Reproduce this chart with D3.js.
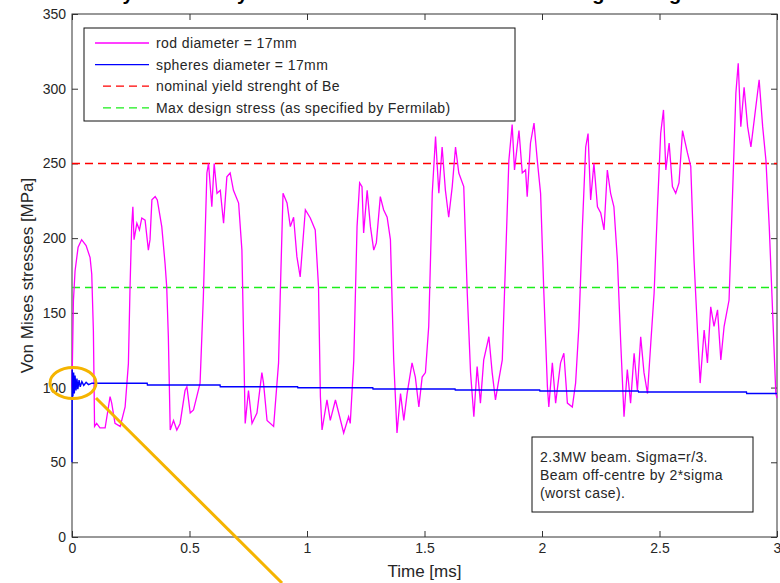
<!DOCTYPE html>
<html>
<head>
<meta charset="utf-8">
<script src="https://cdn.jsdelivr.net/npm/d3@7"></script>
<style>
  body { margin: 0; background: #fff; }
  text { font-family: "Liberation Sans", Arial, sans-serif; fill: #262626; }
</style>
</head>
<body>
<script>
// rod diameter = 17mm (time in ms, stress in MPa)
const rodT = [0, 0.006, 0.013, 0.026, 0.041, 0.060, 0.077, 0.084, 0.091, 0.094, 0.096, 0.105, 0.119, 0.141, 0.155, 0.162, 0.169, 0.183, 0.205, 0.226,
  0.240, 0.247, 0.254, 0.259, 0.264, 0.276, 0.287, 0.297, 0.311, 0.325, 0.332, 0.340, 0.354, 0.363, 0.382, 0.396, 0.403, 0.410, 0.418, 0.432,
  0.446, 0.460, 0.481, 0.489, 0.503, 0.517, 0.531, 0.545, 0.559, 0.574, 0.581, 0.595, 0.605, 0.617, 0.631, 0.645, 0.659, 0.673, 0.687, 0.709,
  0.723, 0.730, 0.737, 0.751, 0.766, 0.787, 0.808, 0.815, 0.830, 0.858, 0.879, 0.886, 0.898, 0.915, 0.929, 0.943, 0.957, 0.971, 0.993, 1.014,
  1.035, 1.049, 1.057, 1.064, 1.085, 1.099, 1.121, 1.135, 1.156, 1.177, 1.184, 1.199, 1.213, 1.224, 1.234, 1.241, 1.256, 1.270, 1.284, 1.295,
  1.312, 1.326, 1.341, 1.355, 1.369, 1.383, 1.398, 1.412, 1.426, 1.447, 1.461, 1.476, 1.490, 1.504, 1.518, 1.533, 1.547, 1.561, 1.575, 1.589,
  1.603, 1.618, 1.632, 1.646, 1.667, 1.682, 1.696, 1.710, 1.724, 1.738, 1.752, 1.774, 1.788, 1.802, 1.816, 1.831, 1.845, 1.859, 1.873, 1.883,
  1.902, 1.916, 1.930, 1.937, 1.951, 1.966, 1.980, 1.994, 2.008, 2.023, 2.029, 2.044, 2.058, 2.079, 2.093, 2.108, 2.129, 2.143, 2.157, 2.172,
  2.186, 2.196, 2.207, 2.221, 2.236, 2.250, 2.264, 2.278, 2.292, 2.306, 2.321, 2.335, 2.349, 2.363, 2.377, 2.392, 2.406, 2.420, 2.434, 2.449,
  2.463, 2.477, 2.491, 2.505, 2.517, 2.527, 2.541, 2.555, 2.569, 2.583, 2.598, 2.619, 2.633, 2.647, 2.662, 2.673, 2.690, 2.704, 2.718, 2.732,
  2.747, 2.761, 2.775, 2.796, 2.811, 2.825, 2.835, 2.846, 2.860, 2.875, 2.889, 2.903, 2.924, 2.939, 2.953, 2.967, 2.981, 2.995, 3.0];
const rodS = [100, 158, 178, 194, 199, 195, 187, 176, 138, 100, 74, 76, 73, 73, 87, 94, 89.6, 76, 74, 87,
  116, 167.5, 208, 221, 199, 210, 205.5, 213.5, 212, 192, 199, 225.6, 227.8, 225.6, 207.7, 183, 167.5, 134, 71.6, 78,
  71.6, 76, 98, 100.6, 83, 85, 94, 103, 161, 243.6, 250, 221, 250, 230, 232, 210, 241, 243.6, 232, 223.5,
  192, 134, 76, 98, 76, 83, 110, 103, 78, 74, 116.5, 161, 230, 223.5, 207.7, 214, 187.6, 174, 219, 213.5,
  205.5, 167.5, 94, 71.6, 91.7, 78, 91.7, 83, 69.6, 80.5, 76, 118, 207.7, 237, 234.5, 203.5, 232, 207.7, 192, 196.8,
  227.8, 219, 214, 199, 118.5, 69.6, 96, 78, 96, 116.5, 107, 87, 107, 110, 141, 230, 268, 230, 261, 232,
  214, 234.5, 261, 243.6, 234.5, 163, 110, 80.5, 114, 89.6, 118.5, 134, 110, 91.7, 105, 118.5, 185, 252, 276, 245.6,
  272, 243.6, 245.6, 227.8, 263.7, 277, 252, 230, 163, 100.6, 87, 116.5, 89.6, 116.5, 123, 89.6, 87, 103, 141, 207.7,
  261, 270, 225.6, 250, 221, 216.8, 205.5, 245.6, 230, 221, 185, 130, 80.5, 112, 89.6, 123, 98, 134, 110, 96,
  130, 163, 219, 270, 285.8, 245.6, 263.7, 234.5, 230, 237, 272, 257, 248, 185, 136.5, 103, 138.5, 116.5, 154, 141,
  152, 118.5, 141, 158.6, 230, 297, 317, 274.6, 301, 274.6, 261, 279, 306, 274.6, 252, 207.7, 152, 96, 93];

// spheres diameter = 17mm
const sphT = [0, 0.001, 0.004, 0.007, 0.010, 0.013, 0.017, 0.021, 0.025, 0.030, 0.035, 0.042, 0.050, 0.060, 0.070, 0.085,
  0.32, 0.321, 0.63, 0.631, 0.96, 0.961, 1.28, 1.281, 1.63, 1.631, 1.99, 1.991, 2.41, 2.411, 2.87, 2.871, 3.0];
const sphS = [50, 112, 94, 110, 96, 108, 98, 106, 99, 105, 100.5, 104, 101.5, 103.5, 102, 103,
  102.9, 101.7, 101.7, 100.6, 100.6, 99.9, 99.9, 99, 99, 98.4, 98.4, 97.7, 97.7, 97, 97, 96, 96];

const yieldStress = 250;
const designStress = 167;

const xTicks = [0, 0.5, 1, 1.5, 2, 2.5, 3];
const yTicks = [0, 50, 100, 150, 200, 250, 300, 350];

const legendLabels = ["rod diameter = 17mm", "spheres diameter = 17mm",
  "nominal yield strenght of Be", "Max design stress (as specified by Fermilab)"];
const noteLines = ["2.3MW beam. Sigma=r/3.", "Beam off-centre by 2*sigma", "(worst case)."];

const W = 780, H = 583;
const mLeft = 72, mRight = 777, mTop = 14, mBottom = 537;

const svg = d3.select("body").append("svg")
  .attr("width", W).attr("height", H);
svg.append("rect").attr("width", W).attr("height", H).attr("fill", "#fff");

const x = d3.scaleLinear().domain([0, 3]).range([mLeft, mRight]);
const y = d3.scaleLinear().domain([0, 350]).range([mBottom, mTop]);

// title, only its lower edge shows at the top of the picture
svg.append("text")
  .attr("x", 108).attr("y", 0)
  .style("font-size", "20px").style("font-weight", "bold").style("fill", "#000")
  .text("Dynamic analysis of Von Mises stresses in a Be target along the axis");

// axes, MATLAB style box with inward ticks
function styleAxis(g) {
  g.select(".domain").remove();
  g.selectAll(".tick line").attr("stroke", "#333");
  g.selectAll(".tick text").style("font-size", "14px").style("fill", "#262626");
}
svg.append("g").attr("transform", `translate(0,${mBottom})`)
  .call(d3.axisBottom(x).tickValues(xTicks).tickSize(-6).tickPadding(6).tickFormat(d => String(d)))
  .call(styleAxis);
svg.append("g").attr("transform", `translate(0,${mTop})`)
  .call(d3.axisTop(x).tickValues(xTicks).tickSize(-6).tickFormat(""))
  .call(styleAxis);
svg.append("g").attr("transform", `translate(${mLeft},0)`)
  .call(d3.axisLeft(y).tickValues(yTicks).tickSize(-6).tickPadding(6))
  .call(styleAxis);
svg.append("g").attr("transform", `translate(${mRight},0)`)
  .call(d3.axisRight(y).tickValues(yTicks).tickSize(-6).tickFormat(""))
  .call(styleAxis);

svg.append("rect")
  .attr("x", mLeft).attr("y", mTop)
  .attr("width", mRight - mLeft).attr("height", mBottom - mTop)
  .attr("fill", "none").attr("stroke", "#333").attr("stroke-width", 1);

// axis labels
svg.append("text")
  .attr("x", (mLeft + mRight) / 2).attr("y", 577)
  .attr("text-anchor", "middle").style("font-size", "17px")
  .text("Time [ms]");
svg.append("text")
  .attr("transform", `translate(33,${(mTop + mBottom) / 2}) rotate(-90)`)
  .attr("text-anchor", "middle").style("font-size", "17px")
  .text("Von Mises stresses [MPa]");

// series
const line = d3.line().x(d => x(d[0])).y(d => y(d[1]));
const rod = rodT.map((t, i) => [t, rodS[i]]);
const sph = sphT.map((t, i) => [t, sphS[i]]);

svg.append("path").datum([[0, yieldStress], [3, yieldStress]])
  .attr("d", line).attr("fill", "none")
  .attr("stroke", "#ff0000").attr("stroke-width", 1.5).attr("stroke-dasharray", "8,5");
svg.append("path").datum([[0, designStress], [3, designStress]])
  .attr("d", line).attr("fill", "none")
  .attr("stroke", "#1aee1a").attr("stroke-width", 1.5).attr("stroke-dasharray", "8,5");

svg.append("path").datum(rod)
  .attr("d", line).attr("fill", "none")
  .attr("stroke", "#ff00ff").attr("stroke-width", 1.3);
svg.append("path").datum(sph)
  .attr("d", line).attr("fill", "none")
  .attr("stroke", "#0000ff").attr("stroke-width", 1.4);

// legend
const legend = svg.append("g");
legend.append("rect")
  .attr("x", 84).attr("y", 28).attr("width", 431).attr("height", 93)
  .attr("fill", "#fff").attr("stroke", "#111");
const legendStyles = [
  { color: "#ff00ff", dash: null },
  { color: "#0000ff", dash: null },
  { color: "#ff0000", dash: "8,5" },
  { color: "#1aee1a", dash: "8,5" }
];
legendLabels.forEach((lab, i) => {
  const cy = 43 + i * 21.6;
  legend.append("line")
    .attr("x1", legendStyles[i].dash ? 103 : 95).attr("x2", 149).attr("y1", cy).attr("y2", cy)
    .attr("stroke", legendStyles[i].color).attr("stroke-width", 1.3)
    .attr("stroke-dasharray", legendStyles[i].dash);
  legend.append("text")
    .attr("x", 156).attr("y", cy + 5)
    .style("font-size", "14px").style("letter-spacing", "0.4px")
    .text(lab);
});

// note box
svg.append("rect")
  .attr("x", 532).attr("y", 437).attr("width", 221).attr("height", 75)
  .attr("fill", "#fff").attr("stroke", "#111");
noteLines.forEach((t, i) => {
  svg.append("text")
    .attr("x", 540).attr("y", 462 + i * 18)
    .style("font-size", "14px").style("letter-spacing", "0.4px")
    .text(t);
});

// yellow highlight of the spheres start transient
svg.append("ellipse")
  .attr("cx", 73).attr("cy", 383).attr("rx", 23).attr("ry", 15.5)
  .attr("fill", "none").attr("stroke", "#f5b400").attr("stroke-width", 3);
svg.append("line")
  .attr("x1", 96).attr("y1", 398).attr("x2", 282).attr("y2", 583)
  .attr("stroke", "#f5b400").attr("stroke-width", 3);
</script>
</body>
</html>
